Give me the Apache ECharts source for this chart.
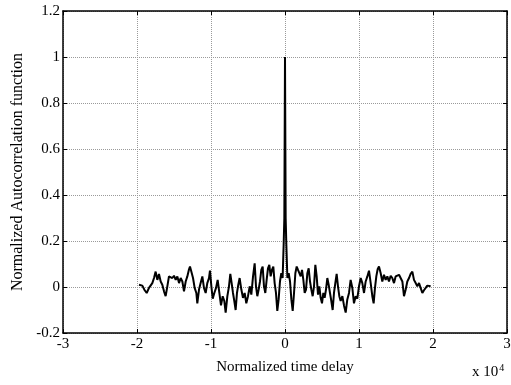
<!DOCTYPE html>
<html><head><meta charset="utf-8">
<script src="https://cdn.jsdelivr.net/npm/echarts@6/dist/echarts.min.js"></script>
<style>html,body{margin:0;padding:0;background:#fff}#c{width:511px;height:385px}</style>
</head><body><div id="c"></div>
<script>
// lag values (units of 10^4) and normalized autocorrelation
const lagsLeft = [-1.973,-1.928,-1.896,-1.869,-1.838,-1.793,-1.770,-1.748,-1.725,-1.703,-1.680,-1.658,-1.635,-1.613,-1.590,-1.568,-1.545,-1.523,-1.500,-1.477,-1.455,-1.432,-1.410,-1.387,-1.365,-1.342,-1.320,-1.297,-1.284,-1.266,-1.243,-1.221,-1.198,-1.185,-1.162,-1.140,-1.117,-1.095,-1.072,-1.050,-1.027,-1.014,-0.995,-0.977,-0.955,-0.932,-0.910,-0.887,-0.865,-0.842,-0.820,-0.802,-0.779,-0.757,-0.739,-0.721,-0.703,-0.685,-0.667,-0.649,-0.631,-0.613,-0.590,-0.568,-0.545,-0.523,-0.500,-0.477,-0.455,-0.432,-0.410,-0.392,-0.374,-0.356,-0.338,-0.320,-0.302,-0.284,-0.266,-0.248,-0.230,-0.212,-0.194,-0.176,-0.158,-0.140,-0.122,-0.104,-0.086,-0.068,-0.050,-0.032,-0.018,-0.009];
const valsLeft = [0.010,0.006,-0.014,-0.026,-0.004,0.017,0.039,0.067,0.031,0.057,0.024,0.010,-0.019,-0.040,0.003,0.046,0.053,0.039,0.049,0.031,0.046,0.017,0.039,0.024,-0.019,0.024,0.046,0.077,0.089,0.067,0.039,-0.004,-0.026,-0.071,-0.011,0.017,0.046,-0.004,-0.026,0.017,0.039,0.071,0.003,-0.051,-0.026,-0.004,0.031,-0.026,-0.080,-0.040,-0.061,-0.111,-0.040,0.003,0.057,0.017,-0.026,-0.061,-0.100,-0.026,0.010,0.039,-0.011,-0.047,-0.026,-0.071,-0.040,0.003,-0.033,0.046,0.103,0.003,-0.040,-0.011,0.024,0.074,0.089,0.003,-0.026,0.031,0.081,0.096,0.046,0.074,0.089,0.017,-0.026,-0.104,-0.054,0.024,0.060,0.039,0.186,0.299];
const lagsCenter = [0];
const valsCenter = [1.0];
const lagsRight = [0.009,0.018,0.032,0.050,0.068,0.086,0.104,0.122,0.140,0.158,0.176,0.194,0.212,0.230,0.248,0.266,0.284,0.302,0.320,0.338,0.356,0.374,0.392,0.410,0.428,0.446,0.464,0.482,0.500,0.518,0.536,0.554,0.572,0.590,0.608,0.626,0.644,0.662,0.680,0.698,0.716,0.734,0.752,0.775,0.797,0.820,0.842,0.865,0.887,0.910,0.932,0.955,0.977,1.000,1.023,1.045,1.068,1.090,1.113,1.135,1.158,1.180,1.198,1.216,1.234,1.252,1.270,1.293,1.315,1.338,1.360,1.383,1.405,1.428,1.450,1.473,1.495,1.518,1.541,1.563,1.586,1.608,1.631,1.653,1.676,1.698,1.721,1.743,1.766,1.788,1.811,1.833,1.856,1.878,1.901,1.923,1.946,1.968];
const valsRight = [0.299,0.186,0.039,0.060,0.024,-0.054,-0.104,-0.026,0.060,0.089,0.074,0.081,0.046,0.074,0.031,-0.026,-0.011,0.060,0.081,0.024,-0.011,-0.040,0.003,0.096,0.046,-0.033,0.003,-0.047,-0.071,-0.026,-0.047,-0.011,0.039,0.010,-0.026,-0.061,-0.100,-0.026,0.017,0.057,0.003,-0.040,-0.061,-0.040,-0.080,-0.111,-0.054,-0.026,0.031,-0.004,-0.071,-0.040,-0.051,0.003,0.039,0.017,-0.026,0.024,0.046,0.071,0.017,-0.040,-0.071,-0.004,0.046,0.077,0.089,0.060,0.024,0.053,0.031,0.046,0.024,0.049,0.039,0.017,0.046,0.039,0.053,0.060,0.024,-0.040,-0.011,0.024,0.039,0.057,0.067,0.031,0.017,0.003,0.017,-0.004,-0.026,-0.014,-0.004,0.006,0.003,0.003];
const xTicks = ['-3','-2','-1','0','1','2','3'];
const yTicks = ['-0.2','0','0.2','0.4','0.6','0.8','1','1.2'];

const lags = lagsLeft.concat(lagsCenter, lagsRight);
const vals = valsLeft.concat(valsCenter, valsRight);
const data = lags.map((x, i) => [x, vals[i]]);

const font = 'Liberation Serif';
const chart = echarts.init(document.getElementById('c'), null, {renderer: 'canvas'});
const splitLine = {show: true, lineStyle: {color: '#9a9a9a', type: [1, 1], width: 1}};
chart.setOption({
  animation: false,
  backgroundColor: '#fff',
  grid: {left: 63, right: 4, top: 11, bottom: 52, outerBoundsMode: 'none', containLabel: false},
  xAxis: [{
    type: 'value', min: -3, max: 3, interval: 1,
    axisLine: {show: true, onZero: false, lineStyle: {color: '#000', width: 1.5}},
    axisTick: {show: true, inside: true, length: 4, lineStyle: {color: '#000'}},
    axisLabel: {color: '#000', fontFamily: font, fontSize: 15, margin: 4,
      formatter: v => xTicks[Math.round(v) + 3]},
    splitLine: splitLine,
    name: 'Normalized time delay', nameLocation: 'middle', nameGap: 27,
    nameTextStyle: {color: '#000', fontFamily: font, fontSize: 15}
  }, {
    type: 'value', min: -3, max: 3, interval: 1, position: 'top',
    axisLine: {show: true, onZero: false, lineStyle: {color: '#000', width: 1.5}},
    axisTick: {show: true, inside: true, length: 4, lineStyle: {color: '#000'}},
    axisLabel: {show: false}, splitLine: {show: false}
  }],
  yAxis: [{
    type: 'value', min: -0.2, max: 1.2, interval: 0.2,
    axisLine: {show: true, onZero: false, lineStyle: {color: '#000', width: 1.5}},
    axisTick: {show: true, inside: true, length: 4, lineStyle: {color: '#000'}},
    axisLabel: {color: '#000', fontFamily: font, fontSize: 15, margin: 3,
      formatter: v => yTicks[Math.round((v + 0.2) / 0.2)]},
    splitLine: splitLine,
    name: 'Normalized Autocorrelation function', nameLocation: 'middle', nameGap: 37,
    nameTextStyle: {color: '#000', fontFamily: font, fontSize: 16}
  }, {
    type: 'value', min: -0.2, max: 1.2, interval: 0.2, position: 'right',
    axisLine: {show: true, onZero: false, lineStyle: {color: '#000', width: 1.5}},
    axisTick: {show: true, inside: true, length: 4, lineStyle: {color: '#000'}},
    axisLabel: {show: false}, splitLine: {show: false}
  }],
  series: [{
    type: 'line', data: data, showSymbol: false, symbol: 'none',
    lineStyle: {color: '#000', width: 2}, z: 5
  }],
  graphic: [{
    type: 'text', left: 472, top: 363,
    style: {
      text: 'x 10{s|4}', fill: '#000', font: '15px "Liberation Serif"',
      rich: {s: {fontSize: 10, fontFamily: font, verticalAlign: 'top', padding: [0, 0, 9, 1]}}
    }
  }]
});
</script>
</body></html>
